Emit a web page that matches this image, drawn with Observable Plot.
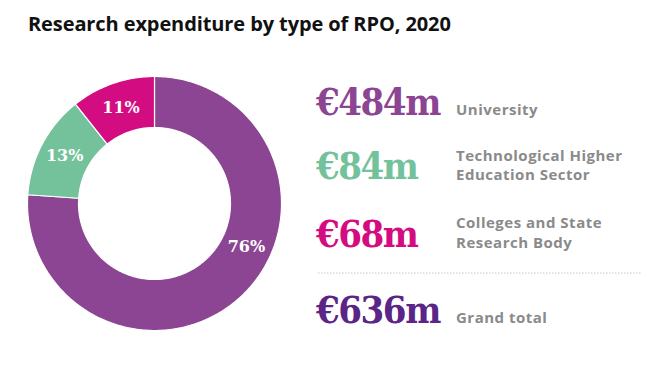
<!DOCTYPE html>
<html><head><meta charset="utf-8">
<script src="https://cdn.jsdelivr.net/npm/d3@7"></script>
<script src="https://cdn.jsdelivr.net/npm/@observablehq/plot@0.6"></script>
<style>
body{margin:0;background:#fff;}
#chart{position:relative;width:668px;height:377px;overflow:hidden;font-family:"Open Sans",sans-serif;}
#title{position:absolute;left:28px;top:10px;font-size:20px;font-weight:700;color:#111;margin:0;letter-spacing:-0.1px;line-height:1.362;}
#donut{position:absolute;left:23px;top:72px;}
#legend{position:absolute;left:0;top:0;}
</style></head><body>
<div id="chart">
<h1 id="title">Research expenditure by type of RPO, 2020</h1>
<div id="donut"></div>
<svg id="legend" width="668" height="377"></svg>
</div>
<script>
// ---- data ----
const categories = ["University", "Technological Higher Education Sector", "Colleges and State Research Body"];
const categoryLines = [["University"], ["Technological Higher", "Education Sector"], ["Colleges and State", "Research Body"]];
const amounts = [484, 84, 68];       // € million
const shares = [76, 13, 11];          // % of total
const totalAmount = 636;              // € million
const totalLabel = "Grand total";

// ---- styles ----
const colors = ["#8C4593", "#74C29B", "#D40C81"];
const totalColor = "#5A2587";

// ---- donut geometry (unit circle) ----
const innerR = 76 / 127;
const sum = d3.sum(amounts);
let acc = 0;
const slices = amounts.map((v, i) => {
  const a0 = acc; acc += v / sum * 2 * Math.PI;
  return {i, cat: categories[i], a0, a1: acc};
});
const pts = [];
for (const s of slices) {
  const n = Math.max(2, Math.ceil((s.a1 - s.a0) / (Math.PI / 180)) + 1);
  for (let k = 0; k < n; k++) {
    const a = s.a0 + (s.a1 - s.a0) * k / (n - 1);
    pts.push({cat: s.cat, x: Math.sin(a), y: Math.cos(a)});
  }
  for (let k = n - 1; k >= 0; k--) {
    const a = s.a0 + (s.a1 - s.a0) * k / (n - 1);
    pts.push({cat: s.cat, x: innerR * Math.sin(a), y: innerR * Math.cos(a)});
  }
}
const labelR = (1 + innerR) / 2;
const labels = slices.map(s => {
  const frac = s.i === 0 ? 0.42 : 0.5; // largest slice label sits off-centre
  const a = s.a0 + (s.a1 - s.a0) * frac;
  return {text: shares[s.i] + "%", x: labelR * Math.sin(a), y: labelR * Math.cos(a)};
});

const D = 131 / 127;
const plot = Plot.plot({
  width: 262, height: 262, margin: 0,
  x: {domain: [-D, D], axis: null},
  y: {domain: [-D, D], axis: null},
  color: {domain: categories, range: colors},
  style: {background: "transparent"},
  marks: [
    Plot.line(pts, {x: "x", y: "y", z: "cat", fill: "cat", stroke: "white", strokeWidth: 1.2, curve: "linear-closed"}),
    Plot.text(labels, {x: "x", y: "y", text: "text", fill: "white", fontSize: 16, fontWeight: "bold", fontFamily: "DejaVu Serif"})
  ]
});
document.getElementById("donut").append(plot);

// ---- right-hand legend ----
const svg = d3.select("#legend");
const valueX = 316, labelX = 456;
const rowBase = [115, 179, 247];
const rowLabelBase = [[115], [161, 180], [228, 248]];
const valueFont = "'DejaVu Serif', serif";
function valueText(x, y, txt, color) {
  svg.append("text").attr("x", x).attr("y", y).attr("fill", color)
    .attr("font-family", valueFont).attr("font-weight", 700).attr("font-size", 38).attr("letter-spacing", -1.5)
    .style("font-stretch", "condensed").text(txt);
}
function labelText(x, y, txt) {
  svg.append("text").attr("x", x).attr("y", y).attr("fill", "#8a8a8a")
    .attr("font-family", "'Open Sans', sans-serif").attr("font-weight", 700).attr("font-size", 15)
    .attr("letter-spacing", 0.5).text(txt);
}
amounts.forEach((v, i) => {
  valueText(valueX, rowBase[i], "€" + v + "m", colors[i]);
  categoryLines[i].forEach((ln, j) => labelText(labelX, rowLabelBase[i][j], ln));
});
svg.append("line").attr("x1", 318).attr("x2", 642).attr("y1", 273).attr("y2", 273)
  .attr("stroke", "#c8c8c8").attr("stroke-width", 1).attr("stroke-dasharray", "1.5,1.5");
valueText(valueX, 323, "€" + totalAmount + "m", totalColor);
labelText(labelX, 323, totalLabel);
</script>
</body></html>
